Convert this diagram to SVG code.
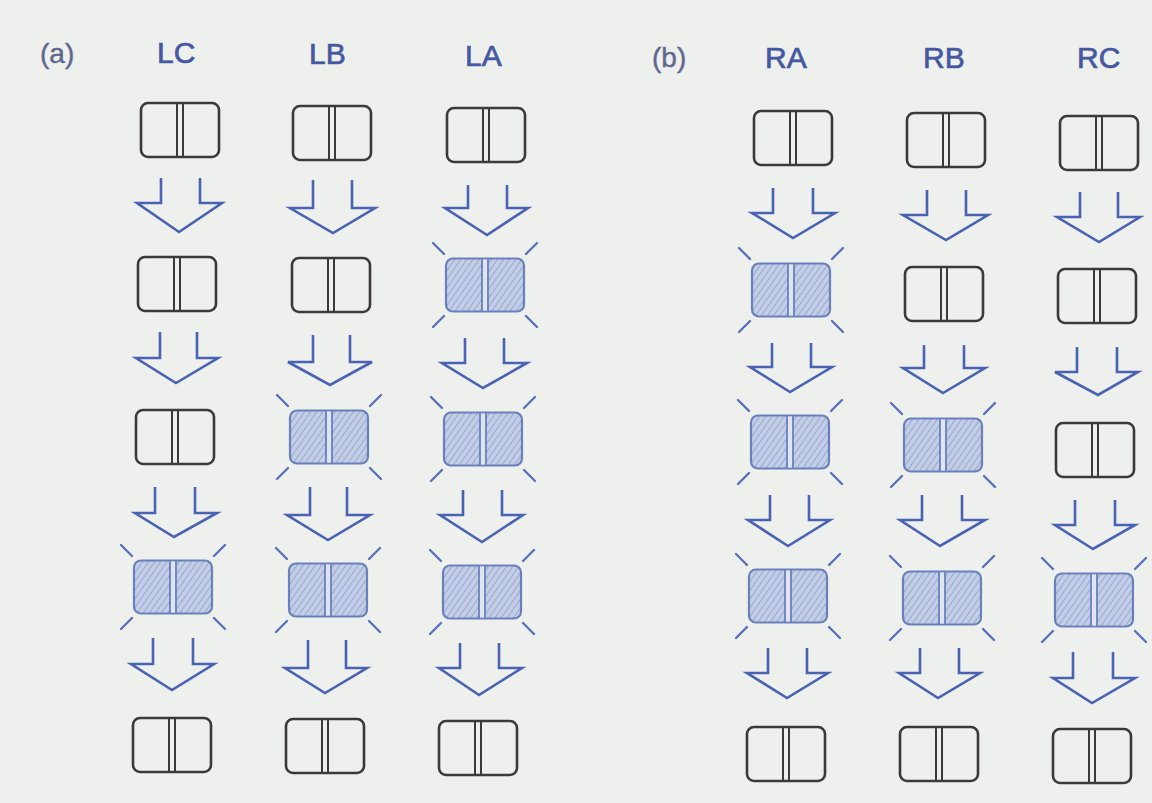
<svg xmlns="http://www.w3.org/2000/svg" xmlns:xlink="http://www.w3.org/1999/xlink" width="1152" height="803" viewBox="0 0 1152 803">
<style>
.bg{fill:#eef0ed}
.lbl{font-family:"Liberation Sans",Arial,sans-serif;font-size:30px;fill:#4658a2;stroke:#4658a2;stroke-width:0.7}
.tag{font-family:"Liberation Sans",Arial,sans-serif;font-size:28px;fill:#5f6790;stroke:#5f6790;stroke-width:0.4}
.box{fill:none;stroke:#3a3a3a;stroke-width:2.6}
.div{stroke:#3a3a3a;stroke-width:2}
.sbox{fill:url(#hatch);stroke:#6a80bb;stroke-width:2.2}
.sdiv{stroke:#6a80bb;stroke-width:1.8}
.strip{fill:#dfe5f0}
.ray{stroke:#5a72b8;stroke-width:2.4;stroke-linecap:round}
.arr{fill:none;stroke:#4a62b4;stroke-width:2.6;stroke-linejoin:miter}
</style>
<defs>
<pattern id="hatch" patternUnits="userSpaceOnUse" width="5" height="5" patternTransform="rotate(35)">
<rect width="5" height="5" fill="#c3cee6"/>
<line x1="0" y1="0" x2="0" y2="5" stroke="#8c9dcb" stroke-width="1.6"/>
</pattern>
<g id="plain">
<rect class="box" x="-39" y="-27" width="78" height="54" rx="7"/>
<line class="div" x1="-3" y1="-27" x2="-3" y2="27"/>
<line class="div" x1="3" y1="-27" x2="3" y2="27"/>
</g>
<g id="shaded">
<rect class="sbox" x="-39" y="-26.5" width="78" height="53" rx="7"/>
<rect class="strip" x="-3" y="-25.5" width="6" height="51"/>
<line class="sdiv" x1="-3" y1="-26" x2="-3" y2="26"/>
<line class="sdiv" x1="3" y1="-26" x2="3" y2="26"/>
<line class="ray" x1="-41" y1="-31" x2="-52" y2="-42"/>
<line class="ray" x1="41" y1="-31" x2="52" y2="-42"/>
<line class="ray" x1="-41" y1="31" x2="-52" y2="42"/>
<line class="ray" x1="41" y1="31" x2="52" y2="42"/>
</g>
</defs>
<rect class="bg" x="0" y="0" width="1152" height="803"/>
<g id="labels">
<text class="tag" x="40" y="63">(a)</text>
<text class="lbl" x="157" y="63">LC</text>
<text class="lbl" x="309" y="64">LB</text>
<text class="lbl" x="465" y="66">LA</text>
<text class="tag" x="652" y="67">(b)</text>
<text class="lbl" x="765" y="68">RA</text>
<text class="lbl" x="923" y="68">RB</text>
<text class="lbl" x="1077" y="68">RC</text>
</g>
<g id="connectors">
<path class="arr" d="M161,178 V203 H137 L179,232 L222,203 H200 V178"/>
<path class="arr" d="M160,332 V358 H136 L176,383 L218,358 H197 V332"/>
<path class="arr" d="M155,487 V513 H135 L174,537 L217,513 H195 V487"/>
<path class="arr" d="M153,638 V664 H131 L172,690 L214,664 H193 V638"/>
<path class="arr" d="M313,180 V208 H290 L333,233 L375,208 H352 V180"/>
<path class="arr" d="M313,335 V362 H288 L330,385 L372,362 H350 V335"/>
<path class="arr" d="M310,487 V515 H287 L328,540 L370,515 H347 V487"/>
<path class="arr" d="M308,640 V668 H285 L325,693 L367,668 H346 V640"/>
<path class="arr" d="M468,185 V208 H445 L487,235 L528,208 H507 V185"/>
<path class="arr" d="M465,338 V363 H442 L483,388 L527,363 H504 V338"/>
<path class="arr" d="M463,490 V515 H440 L482,542 L523,515 H502 V490"/>
<path class="arr" d="M460,643 V668 H439 L479,695 L522,668 H499 V643"/>
<path class="arr" d="M773,188 V213 H752 L793,238 L835,213 H813 V188"/>
<path class="arr" d="M772,343 V367 H750 L790,392 L832,367 H811 V343"/>
<path class="arr" d="M770,495 V520 H748 L788,546 L830,520 H809 V495"/>
<path class="arr" d="M768,648 V673 H747 L787,698 L828,673 H807 V648"/>
<path class="arr" d="M927,190 V215 H903 L946,240 L988,215 H966 V190"/>
<path class="arr" d="M924,345 V368 H903 L943,393 L985,368 H964 V345"/>
<path class="arr" d="M922,495 V520 H900 L940,546 L985,520 H962 V495"/>
<path class="arr" d="M920,648 V673 H899 L938,698 L980,673 H959 V648"/>
<path class="arr" d="M1080,192 V217 H1057 L1099,242 L1140,217 H1118 V192"/>
<path class="arr" d="M1077,347 V372 H1055 L1098,395 L1138,372 H1117 V347"/>
<path class="arr" d="M1075,500 V525 H1055 L1093,549 L1135,525 H1115 V500"/>
<path class="arr" d="M1073,652 V678 H1053 L1092,703 L1135,678 H1113 V652"/>
</g>
<g id="LC1"><use xlink:href="#plain" x="180" y="130"/></g>
<g id="LC2"><use xlink:href="#plain" x="177" y="284"/></g>
<g id="LC3"><use xlink:href="#plain" x="175" y="437"/></g>
<g id="LC4"><use xlink:href="#shaded" x="173" y="587"/></g>
<g id="LC5"><use xlink:href="#plain" x="172" y="745"/></g>
<g id="LB1"><use xlink:href="#plain" x="332" y="133"/></g>
<g id="LB2"><use xlink:href="#plain" x="331" y="285"/></g>
<g id="LB3"><use xlink:href="#shaded" x="329" y="437"/></g>
<g id="LB4"><use xlink:href="#shaded" x="328" y="590"/></g>
<g id="LB5"><use xlink:href="#plain" x="325" y="746"/></g>
<g id="LA1"><use xlink:href="#plain" x="486" y="135"/></g>
<g id="LA2"><use xlink:href="#shaded" x="485" y="285"/></g>
<g id="LA3"><use xlink:href="#shaded" x="483" y="439"/></g>
<g id="LA4"><use xlink:href="#shaded" x="482" y="592"/></g>
<g id="LA5"><use xlink:href="#plain" x="478" y="748"/></g>
<g id="RA1"><use xlink:href="#plain" x="793" y="138"/></g>
<g id="RA2"><use xlink:href="#shaded" x="791" y="290"/></g>
<g id="RA3"><use xlink:href="#shaded" x="790" y="442"/></g>
<g id="RA4"><use xlink:href="#shaded" x="788" y="596"/></g>
<g id="RA5"><use xlink:href="#plain" x="786" y="754"/></g>
<g id="RB1"><use xlink:href="#plain" x="946" y="140"/></g>
<g id="RB2"><use xlink:href="#plain" x="944" y="294"/></g>
<g id="RB3"><use xlink:href="#shaded" x="943" y="445"/></g>
<g id="RB4"><use xlink:href="#shaded" x="942" y="598"/></g>
<g id="RB5"><use xlink:href="#plain" x="939" y="754"/></g>
<g id="RC1"><use xlink:href="#plain" x="1099" y="143"/></g>
<g id="RC2"><use xlink:href="#plain" x="1097" y="296"/></g>
<g id="RC3"><use xlink:href="#plain" x="1095" y="450"/></g>
<g id="RC4"><use xlink:href="#shaded" x="1094" y="600"/></g>
<g id="RC5"><use xlink:href="#plain" x="1092" y="756"/></g>
</svg>
